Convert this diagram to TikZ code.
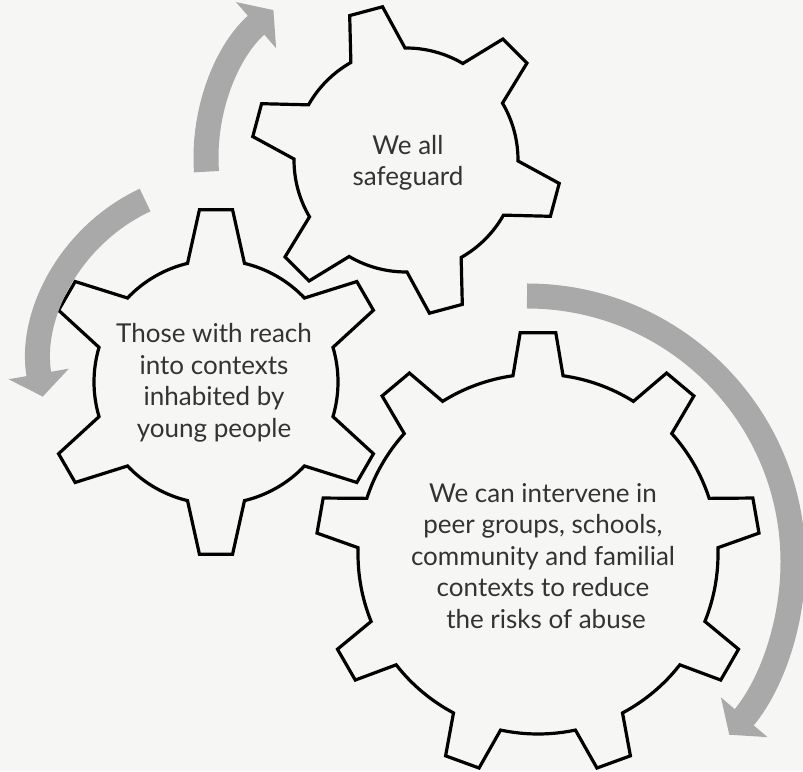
\documentclass[tikz,border=0pt]{standalone}
\usepackage{fontspec}
\setmainfont{Lato}
\usetikzlibrary{arrows.meta}
\definecolor{paper}{HTML}{F6F6F4}
\definecolor{arrowgrey}{HTML}{A9A9AA}
\definecolor{inkgrey}{HTML}{333333}
% #1 teeth, #2 first tooth angle, #3 tip radius, #4 root radius,
% #5 tip half-angle, #6 root half-angle
\newcommand{\gearpath}[6]{%
  ({#2-#6}:#4)
  \foreach \k in {1,...,#1} {
    -- ({#2+360*(\k-1)/#1-#5}:#3) -- ({#2+360*(\k-1)/#1+#5}:#3)
    -- ({#2+360*(\k-1)/#1+#6}:#4)
    arc[start angle={#2+360*(\k-1)/#1+#6}, end angle={#2+360*\k/#1-#6}, radius=#4]
  } -- cycle}

\begin{document}
\begin{tikzpicture}[x=1pt,y=1pt,
    gearline/.style={draw=black,line width=3.2pt,line join=miter},
    turnarrow/.style={draw=arrowgrey,line width=25pt,-{Triangle[width=60pt,length=23pt]}},
    gearlabel/.style={align=center,text=inkgrey,font=\fontsize{26}{31.5}\selectfont}]
  \fill[paper] (0,0) rectangle (803,771);
  \clip (0,0) rectangle (803,771);

  % gears
  \draw[gearline,shift={(406,611)}] \gearpath{6}{105}{155}{112}{6.3}{14.5};
  \draw[gearline,shift={(216,389)}] \gearpath{6}{90}{173}{122}{5.5}{13.5};
  \draw[gearline,shift={(538,217)}] \gearpath{9}{90}{222}{180}{4.6}{8};

  % turning arrows
  \draw[turnarrow,shift={(402,613)}] (184:196) arc[start angle=184, end angle=131, radius=196];
  \draw[turnarrow,shift={(222,406)}] (115:182) arc[start angle=115, end angle=190, radius=182];
  \draw[turnarrow,shift={(527,209)}] (90:266) arc[start angle=90, end angle=-40.5, radius=266];

  \node[gearlabel] (safeguard) at (408,608) {We all\\safeguard};
  \node[gearlabel] (reach) at (214,388) {Those with reach\\into contexts\\inhabited by\\young people};
  \node[gearlabel] (intervene) at (543,215) {We can intervene in\\peer groups, schools,\\community and familial\\contexts to reduce\\\hspace*{6pt}the risks of abuse};
\end{tikzpicture}
\end{document}
